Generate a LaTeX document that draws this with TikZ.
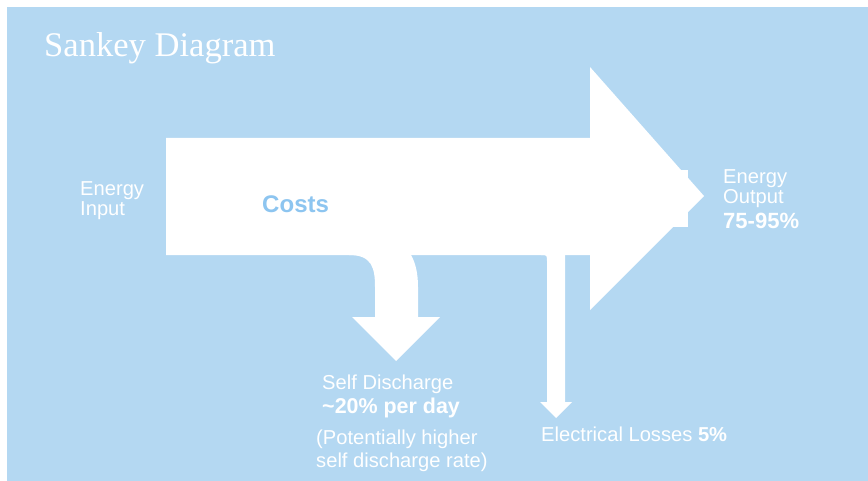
\documentclass[tikz,border=0pt]{standalone}
\usepackage{fontspec}
\setmainfont{Liberation Serif}
\setsansfont{Liberation Sans}
\definecolor{skyback}{HTML}{B4D8F2}
\definecolor{costblue}{HTML}{8DC5F0}

\begin{document}
\begin{tikzpicture}[line cap=round,line join=round,x=0.03cm,y=-0.03cm,
  flow/.style={fill=white,draw=none},
  lbl/.style={anchor=base west,inner sep=0pt,text=white,align=left,font=\sffamily\fontsize{17.2}{17}\selectfont}]
\fill [white] (0,0) rectangle (868,481);
\fill [skyback] (7,7) rectangle (868,481);
\node [anchor=base west,inner sep=0pt,text=white,font=\rmfamily\fontsize{29.5}{30}\selectfont] (title) at (44,57) {Sankey Diagram};
% main flow
\fill [flow] (166,138) -- (590,138) -- (590,67) -- (704,196) -- (590,310) -- (590,255) -- (166,255) -- cycle;
\fill [flow] (655,170) rectangle (688,227);
\fill [flow] (349,250) -- (349,255) .. controls (372,255) and (375,268) .. (375,287) -- (375,317) -- (352,317) -- (396,361) -- (440,317) -- (418,317) -- (418,287) .. controls (418,272) and (415,262) .. (411,255) -- (411,250) -- cycle;
\fill [flow] (541,250) -- (541,255) .. controls (547,255) .. (547,262) -- (547,402) -- (540,402) -- (556,418) -- (572,402) -- (565,402) -- (565,250) -- cycle;
\node [lbl] (input) at (80,215) {Energy\\Input};
\node [lbl,font=\sffamily\bfseries\fontsize{20.5}{22}\selectfont,text=costblue] (costs) at (262,212) {Costs};
\node [lbl] (output) at (723,228) {Energy\\Output\\[4pt]{\bfseries\fontsize{18.8}{17}\selectfont 75-95\%}};
\node [lbl,font=\sffamily\fontsize{17.2}{20}\selectfont] (selfdis) at (322,413) {Self Discharge\\{\bfseries\fontsize{18.3}{17}\selectfont\textasciitilde 20\% per day}};
\node [lbl,font=\sffamily\fontsize{17.2}{19}\selectfont] (selfnote) at (316,467) {(Potentially higher\\self discharge rate)};
\node [lbl] (losses) at (541,441) {Electrical Losses {\bfseries 5\%}};
\end{tikzpicture}
\end{document}
